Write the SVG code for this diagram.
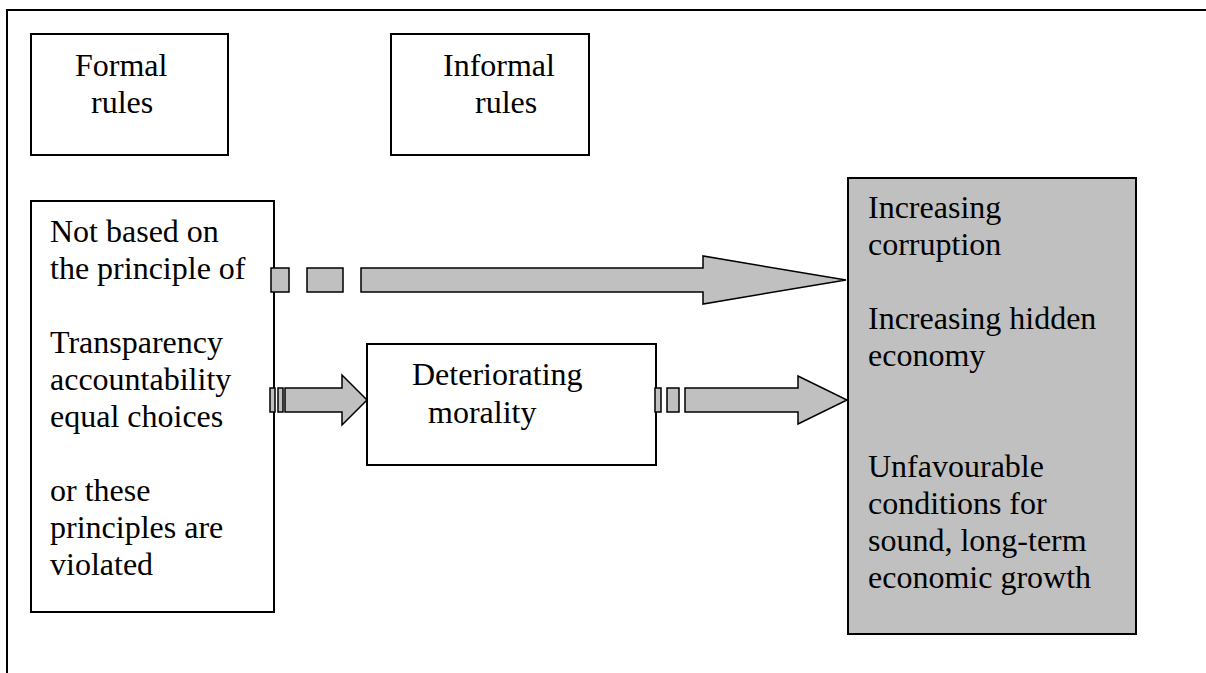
<svg xmlns="http://www.w3.org/2000/svg" width="1206" height="673" viewBox="0 0 1206 673">
<style>
.box{fill:#fff;stroke:#000;stroke-width:2}
.gbox{fill:#c0c0c0;stroke:#000;stroke-width:2}
.arr{fill:#c0c0c0;stroke:#000;stroke-width:1.5;stroke-linejoin:miter}
.frame{fill:none;stroke:#000;stroke-width:2}
text{font-family:"Liberation Serif","Times New Roman",serif;font-size:32px;fill:#000}
</style>
<rect width="1206" height="673" fill="#fff"/>
<path class="frame" d="M7,673 V10 H1206"/>
<g id="formal">
<rect class="box" x="31" y="34" width="197" height="121"/>
<text x="75" y="76">Formal</text>
<text x="91" y="113">rules</text>
</g>
<g id="informal">
<rect class="box" x="391" y="34" width="198" height="121"/>
<text x="443" y="76">Informal</text>
<text x="475" y="113">rules</text>
</g>
<g id="principles">
<rect class="box" x="31" y="201" width="243" height="411"/>
<text x="50" y="242">Not based on</text>
<text x="50" y="279">the principle of</text>
<text x="50" y="353">Transparency</text>
<text x="50" y="390">accountability</text>
<text x="50" y="427">equal choices</text>
<text x="50" y="501">or these</text>
<text x="50" y="538">principles are</text>
<text x="50" y="575">violated</text>
</g>
<g id="morality">
<rect class="box" x="367" y="344" width="289" height="121"/>
<text x="412" y="385">Deteriorating</text>
<text x="428" y="423">morality</text>
</g>
<g id="outcomes">
<rect class="gbox" x="848" y="178" width="288" height="456"/>
<text x="868" y="218">Increasing</text>
<text x="868" y="255">corruption</text>
<text x="868" y="329">Increasing hidden</text>
<text x="868" y="366">economy</text>
<text x="868" y="477">Unfavourable</text>
<text x="868" y="514">conditions for</text>
<text x="868" y="551">sound, long-term</text>
<text x="868" y="588">economic growth</text>
</g>
<g id="connectors">
<rect class="arr" x="271" y="268" width="18" height="24"/>
<rect class="arr" x="307" y="268" width="36" height="24"/>
<polygon class="arr" points="361,268 703,268 703,256 846,280 703,304 703,292 361,292"/>
<rect class="arr" x="270" y="388" width="5" height="24"/>
<rect class="arr" x="278" y="388" width="5" height="24"/>
<polygon class="arr" points="285,388 342,388 342,375 367,400 342,425 342,412 285,412"/>
<rect class="arr" x="655" y="388" width="6" height="24"/>
<rect class="arr" x="667" y="388" width="12" height="24"/>
<polygon class="arr" points="685,388 798,388 798,376 847,400 798,424 798,412 685,412"/>
</g>
</svg>
